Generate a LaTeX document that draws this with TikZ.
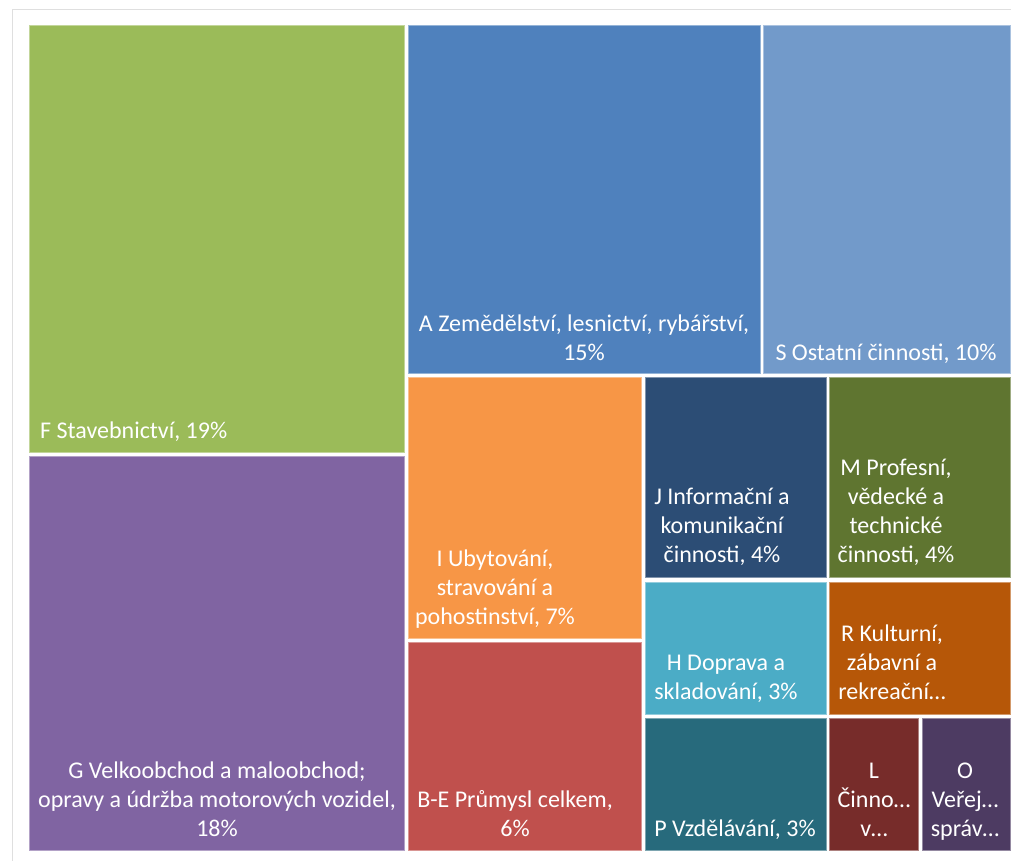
\documentclass[tikz,border=0pt]{standalone}
\usepackage{fontspec}
\setmainfont{Carlito}
\definecolor{cF}{HTML}{9BBB59}
\definecolor{cG}{HTML}{8064A2}
\definecolor{cA}{HTML}{4F81BD}
\definecolor{cS}{HTML}{729ACA}
\definecolor{cI}{HTML}{F79646}
\definecolor{cBE}{HTML}{C0504D}
\definecolor{cJ}{HTML}{2C4D75}
\definecolor{cM}{HTML}{5F7530}
\definecolor{cH}{HTML}{4BACC6}
\definecolor{cR}{HTML}{B65708}
\definecolor{cP}{HTML}{276A7C}
\definecolor{cL}{HTML}{772C2A}
\definecolor{cO}{HTML}{4D3B62}

\begin{document}
\begin{tikzpicture}[x=1pt, y=-1pt,
    lbl/.style={text=white, font=\fontsize{24}{29}\selectfont,
      inner sep=0pt, align=center, anchor=base}]
    \useasboundingbox (0,0) rectangle (1011,861);
    \draw [gray!25, line width=1pt] (12.5,861) -- (12.5,9.5) -- (1011,9.5) ;
    % tiles of the treemap
    \foreach \xa/\ya/\xb/\yb/\c in {
      29.5/26/404/452.5/cF, 29.5/456.5/404/850/cG,
      408/26/760/373/cA, 763/26/1010/373/cS,
      408/377.5/641/638.5/cI, 408/642.5/641/850/cBE,
      645/377.5/826/577.5/cJ, 829.5/377.5/1010/577.5/cM,
      645/582/826/714/cH, 829.5/582/1010/714/cR,
      645/718/826/850/cP, 829.5/718/918/850/cL, 922/718/1010/850/cO} {
      \draw [\c!60!white, fill=\c, line width=1pt] (\xa,\ya) rectangle (\xb,\yb) ;
    }
    % labels (base = baseline of the last line)
    \node (lblF) [lbl, anchor=base west] at (40,438) {F Stavebnictví, 19\%};
    \node (lblG) [lbl] at (217,836) {G Velkoobchod a maloobchod;\\opravy a údržba motorových vozidel,\\18\%};
    \node (lblA) [lbl] at (584,360) {A Zemědělství, lesnictví, rybářství,\\15\%};
    \node (lblS) [lbl] at (886,360) {S Ostatní činnosti, 10\%};
    \node (lblI) [lbl] at (495,624) {I Ubytování,\\stravování a\\pohostinství, 7\%};
    \node (lblBE) [lbl] at (515,836) {B-E Průmysl celkem,\\6\%};
    \node (lblJ) [lbl] at (722,562) {J Informační a\\komunikační\\činnosti, 4\%};
    \node (lblM) [lbl] at (896,562) {M Profesní,\\vědecké a\\technické\\činnosti, 4\%};
    \node (lblH) [lbl] at (726,699) {H Doprava a\\skladování, 3\%};
    \node (lblR) [lbl] at (892,699) {R Kulturní,\\zábavní a\\rekreační…};
    \node (lblP) [lbl] at (735,836) {P Vzdělávání, 3\%};
    \node (lblL) [lbl] at (874,836) {L\\Činno…\\v…};
    \node (lblO) [lbl] at (965,836) {O\\Veřej…\\správ…};
\end{tikzpicture}
\end{document}
